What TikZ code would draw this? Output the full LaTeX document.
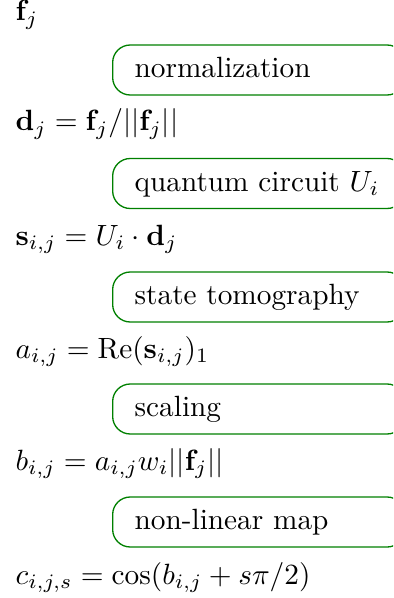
\documentclass[tikz,border=0pt]{standalone}
\usepackage{amsmath}
\usetikzlibrary{positioning}
\definecolor{boxgreen}{rgb}{0,0.5,0}
\begin{document}
\begin{tikzpicture}[x=0.3413pt,y=-0.3413pt,
  mathrow/.style={anchor=base west,inner sep=0pt},
  stepbox/.style={draw=boxgreen,line width=0.45pt,rounded corners=6pt,anchor=west,
    minimum width=292*0.3413pt,minimum height=50*0.3413pt,
    inner xsep=22*0.3413pt,inner ysep=0pt,
    text width=248*0.3413pt,align=left,text height=6.94pt,text depth=1.6pt}]
\useasboundingbox (0,0) rectangle (393,598);
\clip (0,0) rectangle (393,598);
\node[mathrow] (f) at (15,21) {$\mathbf{f}_j$};
\node[stepbox] (b1) at (112,70) {normalization};
\node[mathrow] (d) at (15,131) {$\mathbf{d}_j=\mathbf{f}_j/||\mathbf{f}_j||$};
\node[stepbox] (b2) at (112,183.5) {quantum circuit $U_i$};
\node[mathrow] (s) at (15,245) {$\mathbf{s}_{i,j}=U_i\cdot\mathbf{d}_j$};
\node[stepbox] (b3) at (112,297) {state tomography};
\node[mathrow] (a) at (15,358) {$a_{i,j}=\mathrm{Re}(\mathbf{s}_{i,j})_1$};
\node[stepbox] (b4) at (112,409) {scaling};
\node[mathrow] (b) at (15,470) {$b_{i,j}=a_{i,j}w_i||\mathbf{f}_j||$};
\node[stepbox] (b5) at (112,522) {non-linear map};
\node[mathrow] (c) at (15,584) {$c_{i,j,s}=\cos(b_{i,j}+s\pi/2)$};
\end{tikzpicture}
\end{document}
